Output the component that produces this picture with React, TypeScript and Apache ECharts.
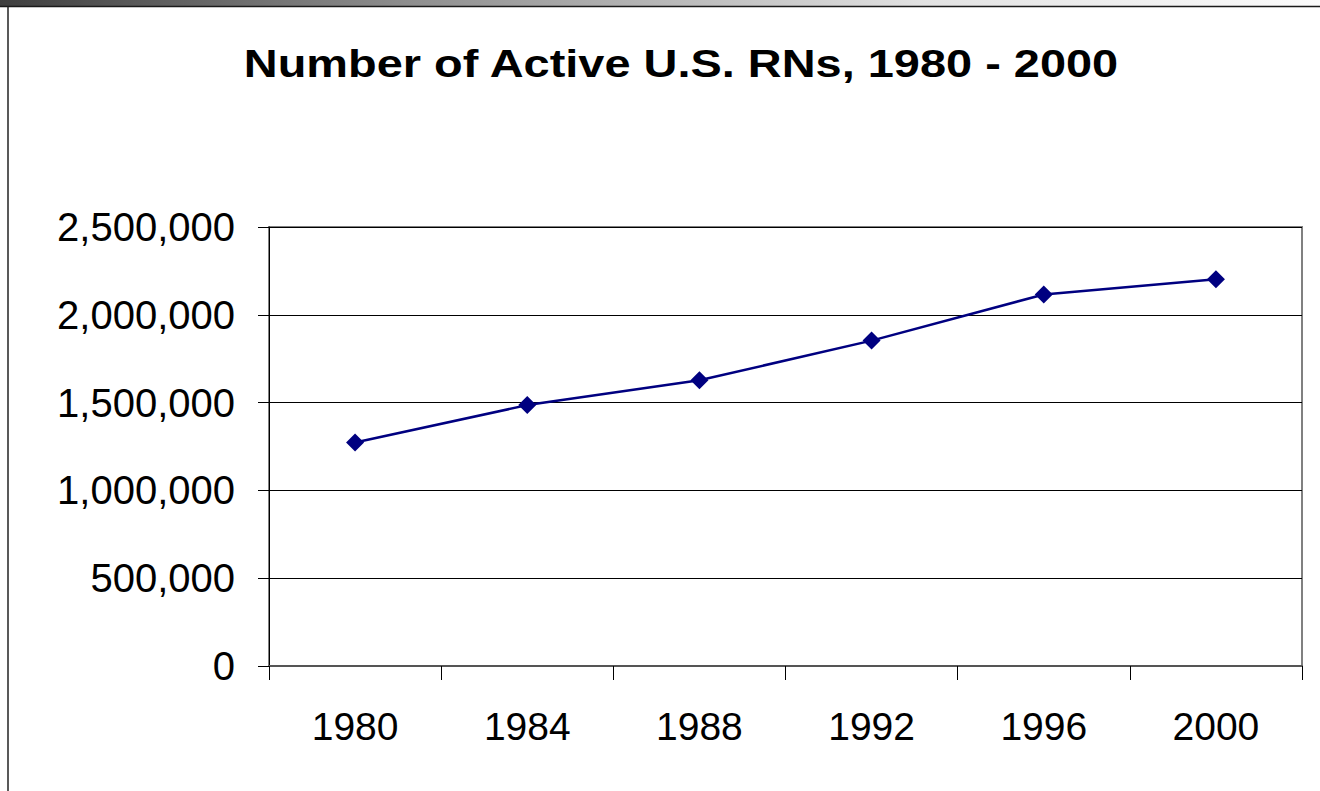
import React, { useEffect, useRef } from "react";
import * as echarts from "echarts";

const TITLE = "Number of Active U.S. RNs, 1980 - 2000";
const years = ["1980", "1984", "1988", "1992", "1996", "2000"];
const activeRNs = [1272900, 1485700, 1627000, 1853000, 2115800, 2201800];
const yMin = 0;
const yMax = 2500000;
const yStep = 500000;

export default function App() {
  const ref = useRef<HTMLDivElement>(null);
  useEffect(() => {
    if (!ref.current) return;
    const chart = echarts.init(ref.current, null, { renderer: "svg" });
    const font = "'Liberation Sans', Arial, sans-serif";
    chart.setOption({
      animation: false,
      backgroundColor: "#ffffff",
      graphic: [
        {
          type: "rect",
          shape: { x: 0, y: 0, width: 1320, height: 6 },
          style: {
            fill: new echarts.graphic.LinearGradient(0, 0, 1, 0, [
              { offset: 0, color: "#3e3e3e" },
              { offset: 0.3, color: "#8c8c8c" },
              { offset: 0.7, color: "#e2e2e2" },
              { offset: 1, color: "#fbfbfb" },
            ]),
          },
          silent: true,
        },
        {
          type: "line",
          shape: { x1: 0, y1: 6.5, x2: 1320, y2: 6.5 },
          style: { stroke: "#1a1a1a", lineWidth: 1.5 },
          silent: true,
        },
        {
          type: "line",
          shape: { x1: 8, y1: 6, x2: 8, y2: 791 },
          style: { stroke: "#222", lineWidth: 1.5 },
          silent: true,
        },
        {
          type: "text",
          x: 681,
          y: 64,
          scaleX: 1.235,
          style: {
            text: TITLE,
            fontFamily: font,
            fontSize: 38,
            fontWeight: "bold",
            fill: "#000",
            align: "center",
            verticalAlign: "middle",
          },
          silent: true,
        },
      ],
      grid: {
        left: 269,
        right: 18,
        top: 227,
        bottom: 125,
        show: true,
        borderColor: "#808080",
        borderWidth: 2,
        backgroundColor: "#fff",
      },
      xAxis: {
        type: "category",
        data: years,
        boundaryGap: true,
        axisLine: { lineStyle: { color: "#555", width: 2 } },
        axisTick: { show: true, length: 14, lineStyle: { color: "#000", width: 1 } },
        axisLabel: { fontFamily: font, fontSize: 39, color: "#000", margin: 41 },
        splitLine: { show: false },
      },
      yAxis: {
        type: "value",
        min: yMin,
        max: yMax,
        interval: yStep,
        axisLine: { show: true, lineStyle: { color: "#000", width: 1 } },
        axisTick: { show: true, length: 11, lineStyle: { color: "#000", width: 1 } },
        axisLabel: {
          fontFamily: font,
          fontSize: 40,
          color: "#000",
          margin: 34,
          formatter: (v: number) => v.toLocaleString("en-US"),
        },
        splitLine: { show: true, lineStyle: { color: "#000", width: 1 } },
      },
      series: [
        {
          type: "line",
          data: activeRNs,
          symbol: "diamond",
          symbolSize: 18,
          lineStyle: { color: "#000080", width: 2.5 },
          itemStyle: { color: "#000080" },
        },
      ],
    });
    return () => chart.dispose();
  }, []);
  return (
    <div
      ref={ref}
      style={{ position: "fixed", left: 0, top: 0, width: 1320, height: 791 }}
    />
  );
}
